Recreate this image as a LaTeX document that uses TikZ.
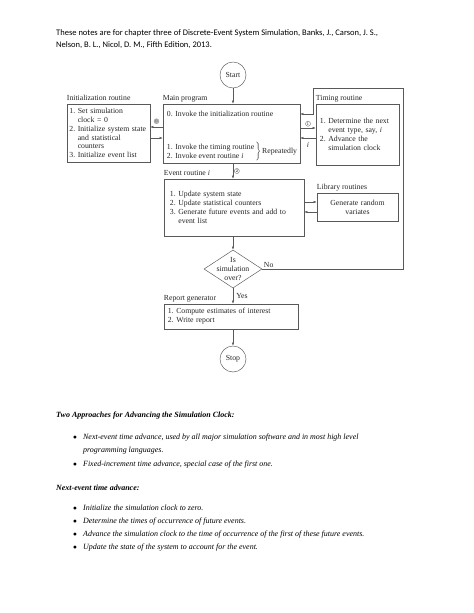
\documentclass[tikz,border=0pt]{standalone}
\usepackage{fontspec}
\newfontfamily\diagserif{Liberation Serif}
\newfontfamily\calibri{Carlito}
\usetikzlibrary{arrows.meta,calc,positioning,shapes.geometric}
\newcommand{\diagfont}{\diagserif\fontsize{10}{11.5}\selectfont}

\begin{document}
\begin{tikzpicture}[
    x=1.291pt, y=-1.291pt,
    >={Latex[length=4pt,width=3pt]},
    flow/.style={draw=black!65, line width=0.6pt, ->},
    box/.style={draw=black!65, line width=0.6pt, align=left, inner ysep=0pt, font=\diagfont, text=black!85},
    lbl/.style={font=\diagfont, text=black!85, inner sep=0pt, anchor=base west},
    txt/.style={font=\diagfont, text=black!85, inner sep=0pt},
    terminal/.style={draw=black!65, line width=0.6pt, circle, minimum size=33.6pt, inner sep=0pt, font=\diagfont, text=black!85},
    decision/.style={draw=black!65, line width=0.6pt, diamond, minimum width=74.9pt, minimum height=49.1pt, inner sep=0pt},
    circnum/.style={draw=black!65, circle, line width=0.4pt, minimum size=6.5pt, inner sep=0pt, font=\fontsize{5}{5}\selectfont},
    hdr/.style={font=\calibri\fontsize{11}{13}\selectfont, inner sep=0pt, anchor=base west},
    remark/.style={font=\diagserif\itshape\fontsize{10.3}{12}\selectfont, inner sep=0pt, anchor=base west}
]
\path[use as bounding box, fill=white] (0,0) rectangle (474,613);

% --- Header ---
\node[hdr] (hdra) at (56,35.5) {These notes are for chapter three of Discrete-Event System Simulation, Banks, J., Carson, J. S.,};
\node[hdr] (hdrb) at (56,47.5) {Nelson, B. L., Nicol, D. M., Fifth Edition, 2013.};

% --- Flowchart boxes ---
\node[terminal] (start) at (233,75) {Start};

% Main program
\node[box, minimum width=176.9pt, minimum height=76.2pt] (main) at (231.5,133.5) {};
\node[txt, anchor=base west] (mainzero) at ($(main.north west)+(4,12.5)$) {0. Invoke the initialization routine};
\node[txt, anchor=south west, align=left] (mainloop) at ($(main.south west)+(4,-4.5)$) {1. Invoke the timing routine\\2. Invoke event routine \textit{i}};
\node[txt, right=1pt of mainloop] (mainbrace) {$\bigg\}$};
\node[txt, right=1pt of mainbrace] (mainrep) {Repeatedly};

% Initialization and timing routines
\node[box, text width=101pt, inner xsep=3pt, minimum height=74.9pt] (init) at (108.5,133)
  {1.~Set simulation\\\hphantom{1.~}clock = 0\\2.~Initialize system state\\\hphantom{2.~}and statistical\\\hphantom{2.~}counters\\3.~Initialize event list};
\node[box, text width=97pt, inner xsep=5.1pt, minimum height=78.8pt] (timing) at (357.5,134.5)
  {1.~Determine the next\\\hphantom{1.~}event type, say, \textit{i}\\2.~Advance the\\\hphantom{2.~}simulation clock};

% Event routine and library
\node[box, text width=165.3pt, inner xsep=7.7pt, minimum height=73.6pt] (event) at (234,207.5)
  {1.~Update system state\\2.~Update statistical counters\\3.~Generate future events and add to\\\hphantom{3.~}event list};
\node[box, align=center, text width=94.6pt, inner xsep=5pt, minimum height=36.1pt] (library) at (357.5,207) {Generate random\\variates};

% Decision, report, stop
\node[decision] (over) at (233,269) {};
\node[txt, align=center] (overtxt) at (over.center) {Is\\simulation\\over?};
\node[box, text width=163pt, inner xsep=5pt, minimum height=32.3pt] (report) at (231,316.5) {1.~Compute estimates of interest\\2.~Write report};
\node[terminal] (stop) at (233,359) {Stop};

% --- Box titles ---
\node[lbl] (initlbl) at ($(init.north west)+(0,-3.5)$) {Initialization routine};
\node[lbl] (mainlbl) at ($(main.north west)+(0,-3.5)$) {Main program};
\node[lbl] (timinglbl) at ($(timing.north west)+(0,-3.5)$) {Timing routine};
\node[lbl] (eventlbl) at ($(event.north west)+(0,-3.5)$) {Event routine \textit{i}};
\node[lbl] (librarylbl) at ($(library.north west)+(0,-3.5)$) {Library routines};
\node[lbl] (reportlbl) at ($(report.north west)+(0,-3.5)$) {Report generator};

% --- Connectors ---
\draw[flow] (start.south) -- (start.south |- main.north);

\draw[flow] (main.west |- 0,127) -- (init.east |- 0,127)
  node[midway, above=4pt, circnum, fill=black!30, draw=black!40, text=black!60] (zero) {0};
\draw[flow] (init.east |- 0,138) -- (main.west |- 0,138);

\draw[flow] (main.east |- 0,128) -- (timing.west |- 0,128) node[midway, above=2pt, circnum] (one) {1};
\draw[flow] (timing.west |- 0,138) -- (main.east |- 0,138) node[midway, below=5pt, txt] (evi) {\textit{i}};

\draw[flow] (main.south -| start) -- (event.north -| start) node[midway, right=1.5pt, circnum] (two) {2};

\draw[flow] (event.east |- 0,202) -- (library.west |- 0,202);
\draw[flow] (library.west |- 0,212) -- (event.east |- 0,212);

\draw[flow] (event.south -| start) -- (over.north);
\draw[flow] (over.south) -- (report.north -| over) node[midway, right=4pt, txt] (yes) {Yes};
\draw[flow] (report.south -| over) -- (stop.north);

% Loop back when simulation is not over
\draw[flow] (over.east) -| (403,88) -| (313,114) -- (main.east |- 0,114);
\node[txt, above right=1pt and 2pt of over.east] (no) {No};

% --- Notes below the chart ---
\node[remark] (apphd) at (56,417) {\bfseries Two Approaches for Advancing the Simulation Clock:};
\node[remark] (bula) at (73,439) {$\bullet$};
\node[remark] (itema) at (83,439) {Next-event time advance, used by all major simulation software and in most high level};
\node[remark] (itemb) at (83,452.5) {programming languages.};
\node[remark] (bulc) at (73,466) {$\bullet$};
\node[remark] (itemc) at (83,466) {Fixed-increment time advance, special case of the first one.};

\node[remark] (nexthd) at (56,490) {\bfseries Next-event time advance:};
\node[remark] (buld) at (73,510.5) {$\bullet$};
\node[remark] (itemd) at (83,510.5) {Initialize the simulation clock to zero.};
\node[remark] (bule) at (73,523.5) {$\bullet$};
\node[remark] (iteme) at (83,523.5) {Determine the times of occurrence of future events.};
\node[remark] (bulf) at (73,536.5) {$\bullet$};
\node[remark] (itemf) at (83,536.5) {Advance the simulation clock to the time of occurrence of the first of these future events.};
\node[remark] (bulg) at (73,549.5) {$\bullet$};
\node[remark] (itemg) at (83,549.5) {Update the state of the system to account for the event.};
\end{tikzpicture}
\end{document}
